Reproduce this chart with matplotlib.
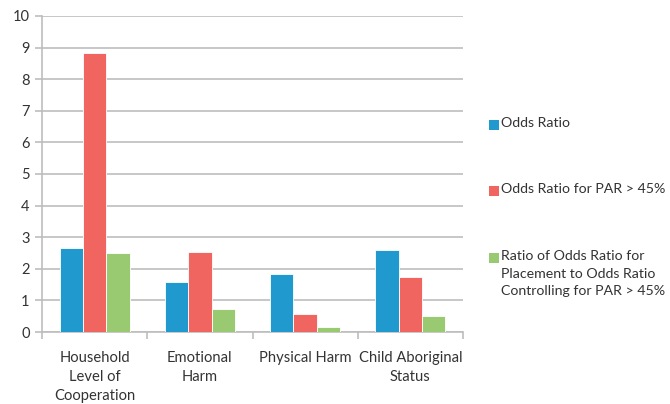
import matplotlib.pyplot as plt
import numpy as np
from matplotlib.patches import Rectangle

plt.rcParams['font.family'] = ['Lato', 'DejaVu Sans']

categories = ["Household\nLevel of\nCooperation", "Emotional\nHarm", "Physical Harm", "Child Aboriginal\nStatus"]
odds_ratio = [2.67, 1.57, 1.85, 2.59]
odds_ratio_par = [8.82, 2.54, 0.57, 1.74]
ratio_of_ratios = [2.49, 0.72, 0.16, 0.50]

series_names = ["Odds Ratio", "Odds Ratio for PAR > 45%",
                "Ratio of Odds Ratio for\nPlacement to Odds Ratio\nControlling for PAR > 45%"]
colors = ["#209ACE", "#F0655F", "#99C971"]

W, H = 670, 404
fig = plt.figure(figsize=(W / 100, H / 100), dpi=100)
ax = fig.add_axes([42 / W, 1 - 332 / H, 421 / W, 316 / H])

x = np.arange(len(categories))
w = 0.222
for i, (vals, c) in enumerate(zip([odds_ratio, odds_ratio_par, ratio_of_ratios], colors)):
    ax.bar(x + (i - 1) * w, vals, w, color=c, edgecolor="white", linewidth=0.6, zorder=3)

ax.set_xlim(-0.5, len(categories) - 0.5)
ax.set_ylim(0, 10)
ax.set_yticks(range(0, 11))
ax.yaxis.grid(True, color="#BDBDBD", linewidth=1.2, zorder=0)
ax.set_axisbelow(True)

ax.set_xticks(np.arange(-0.5, len(categories), 1.0))
ax.set_xticklabels([])
ax.set_xticks(x, minor=True)
ax.set_xticklabels(categories, minor=True, fontsize=10.6, color="#333333", linespacing=1.45)
ax.tick_params(axis="x", which="minor", length=0, pad=14)
ax.tick_params(axis="x", which="major", length=5, width=1.2, color="#BDBDBD", direction="out")
ax.tick_params(axis="y", length=5, width=1.2, color="#BDBDBD", labelsize=10.5, labelcolor="#333333", pad=4)

for s in ["top", "right"]:
    ax.spines[s].set_visible(False)
for s in ["left", "bottom"]:
    ax.spines[s].set_color("#BDBDBD")
    ax.spines[s].set_linewidth(1.2)

# legend drawn by hand so the marker lines up with the first text line
legend_y = [125, 191, 258]
for name, c, y in zip(series_names, colors, legend_y):
    fig.add_artist(Rectangle((489 / W, 1 - (y + 5) / H), 10 / W, 10 / H,
                             transform=fig.transFigure, facecolor=c, edgecolor="none"))
    fig.text(501 / W, 1 - (y - 8) / H, name, ha="left", va="top", fontsize=10.2,
             color="#333333", linespacing=1.55)

fig.savefig("out.png", dpi=100)
